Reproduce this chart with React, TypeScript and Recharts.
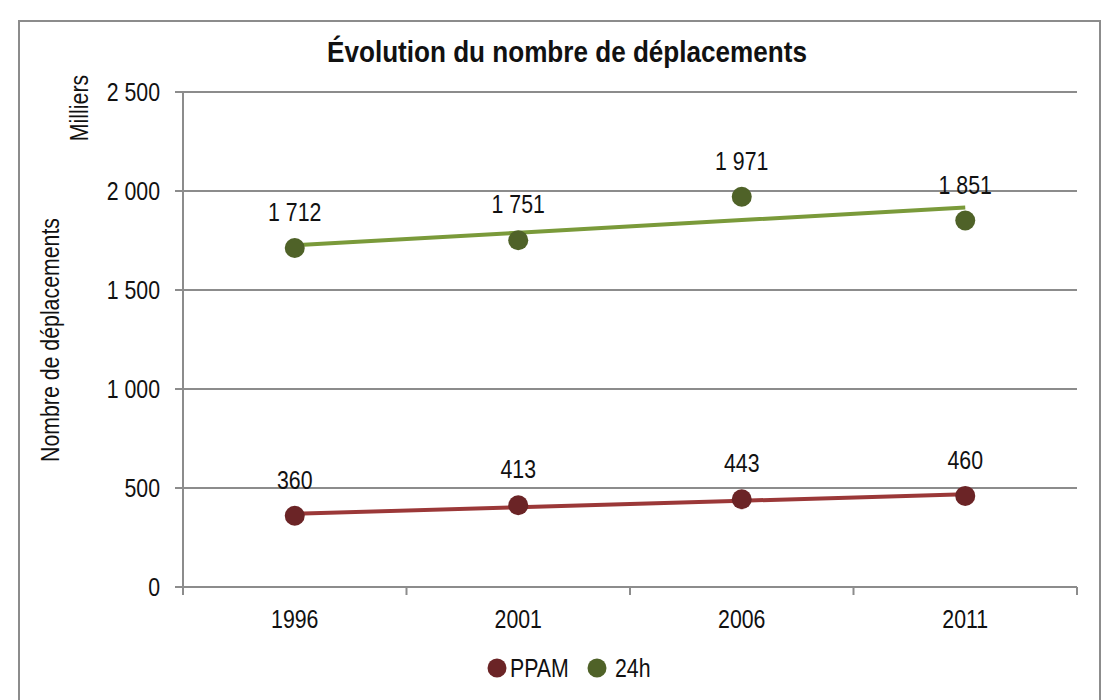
import React from "react";
import {
  ComposedChart,
  Line,
  XAxis,
  YAxis,
  CartesianGrid,
  LabelList,
} from "recharts";

const years = ["1996", "2001", "2006", "2011"];
const ppam = [360, 413, 443, 460];
const h24 = [1712, 1751, 1971, 1851];
const yTicks = [0, 500, 1000, 1500, 2000, 2500];

// Liberation Sans squeezed horizontally stands in for Arial Narrow
const FONT = "'Liberation Sans', Arial, sans-serif";
const NARROW = 0.82;
const FS = 26;
const AXIS = "#8c8c8c";
const INK = "#111";
const RED_DOT = "#6b2426";
const RED_LINE = "#9b3838";
const GREEN_DOT = "#4f6228";
const GREEN_LINE = "#7a9a3a";

// least squares trend line, like the Excel "linear" trendline
function trend(values: number[]) {
  const n = values.length;
  const mx = (n - 1) / 2;
  const my = values.reduce((a, b) => a + b, 0) / n;
  let num = 0;
  let den = 0;
  values.forEach((v, i) => {
    num += (i - mx) * (v - my);
    den += (i - mx) * (i - mx);
  });
  const slope = num / den;
  return values.map((_, i) => my + slope * (i - mx));
}

const ppamTrend = trend(ppam);
const h24Trend = trend(h24);

// points sit in the middle of each year's band
const data = years.map((year, i) => ({
  x: i + 0.5,
  year,
  ppam: ppam[i],
  h24: h24[i],
  ppamTrend: ppamTrend[i],
  h24Trend: h24Trend[i],
}));

const fmt = (v: number) => String(v).replace(/\B(?=(\d{3})+(?!\d))/g, " ");

const xTicks = [0, 0.5, 1, 1.5, 2, 2.5, 3, 3.5, 4];

function NarrowText({ x, y, anchor = "middle", size = FS, weight = "normal", rotate = 0, scale = NARROW, children }: any) {
  return (
    <text
      transform={`translate(${x},${y}) rotate(${rotate}) scale(${scale},1)`}
      textAnchor={anchor}
      fontSize={size}
      fontWeight={weight}
      fontFamily={FONT}
      fill={INK}
    >
      {children}
    </text>
  );
}

function XTick(props: any) {
  const { x, y, payload } = props;
  const v = payload.value;
  if (Math.abs(v - Math.round(v)) < 1e-6) {
    return <line x1={x} x2={x} y1={y} y2={y + 8} stroke={AXIS} strokeWidth={2} />;
  }
  return <NarrowText x={x} y={y + 41}>{years[Math.round(v - 0.5)]}</NarrowText>;
}

function YTick(props: any) {
  const { x, y, payload } = props;
  return <NarrowText x={x} y={y + 9} anchor="end">{fmt(payload.value)}</NarrowText>;
}

function PointLabel(props: any) {
  const x = props.viewBox?.x ?? props.x;
  const y = props.viewBox?.y ?? props.y;
  return <NarrowText x={x} y={y - 27}>{fmt(Number(props.value))}</NarrowText>;
}

export default function App() {
  return (
    <div style={{ position: "absolute", left: 0, top: 0, width: 1107, height: 700, background: "#fff", overflow: "hidden" }}>
      <div
        style={{
          position: "absolute",
          left: 18,
          top: 20,
          width: 1079,
          height: 700,
          border: "2px solid #8c8c8c",
        }}
      />
      <div style={{ position: "absolute", left: 0, top: 0 }}>
        <ComposedChart
          width={1107}
          height={700}
          data={data}
          margin={{ top: 92, right: 30, bottom: 73, left: 123 }}
        >
          <CartesianGrid vertical={false} stroke={AXIS} strokeWidth={2} />
          <XAxis
            dataKey="x"
            type="number"
            domain={[0, 4]}
            ticks={xTicks}
            interval={0}
            height={40}
            tickLine={false}
            tickSize={0}
            tickMargin={0}
            axisLine={{ stroke: AXIS, strokeWidth: 2 }}
            tick={<XTick />}
          />
          <YAxis
            domain={[0, 2500]}
            ticks={yTicks}
            width={60}
            tickSize={8}
            tickMargin={15}
            tickLine={{ stroke: AXIS, strokeWidth: 2 }}
            axisLine={{ stroke: AXIS, strokeWidth: 2 }}
            tick={<YTick />}
          />
          <Line
            dataKey="ppam"
            stroke="none"
            dot={{ r: 10, fill: RED_DOT, stroke: "none" }}
            activeDot={false}
            isAnimationActive={false}
          >
            <LabelList dataKey="ppam" content={<PointLabel />} />
          </Line>
          <Line
            dataKey="h24"
            stroke="none"
            dot={{ r: 10, fill: GREEN_DOT, stroke: "none" }}
            activeDot={false}
            isAnimationActive={false}
          >
            <LabelList dataKey="h24" content={<PointLabel />} />
          </Line>
          <Line dataKey="ppamTrend" stroke={RED_LINE} strokeWidth={4} dot={false} activeDot={false} isAnimationActive={false} />
          <Line dataKey="h24Trend" stroke={GREEN_LINE} strokeWidth={4} dot={false} activeDot={false} isAnimationActive={false} />
        </ComposedChart>
      </div>
      <svg width={1107} height={700} style={{ position: "absolute", left: 0, top: 0, pointerEvents: "none" }}>
        <NarrowText x={567} y={62} size={30} weight="bold" scale={0.87}>
          Évolution du nombre de déplacements
        </NarrowText>
        <NarrowText x={59} y={340} rotate={-90}>Nombre de déplacements</NarrowText>
        <NarrowText x={88} y={108} rotate={-90}>Milliers</NarrowText>
        <circle cx={497} cy={668} r={9.5} fill={RED_DOT} />
        <NarrowText x={510} y={677} anchor="start">PPAM</NarrowText>
        <circle cx={597} cy={668} r={9.5} fill={GREEN_DOT} />
        <NarrowText x={615} y={677} anchor="start">24h</NarrowText>
      </svg>
    </div>
  );
}
